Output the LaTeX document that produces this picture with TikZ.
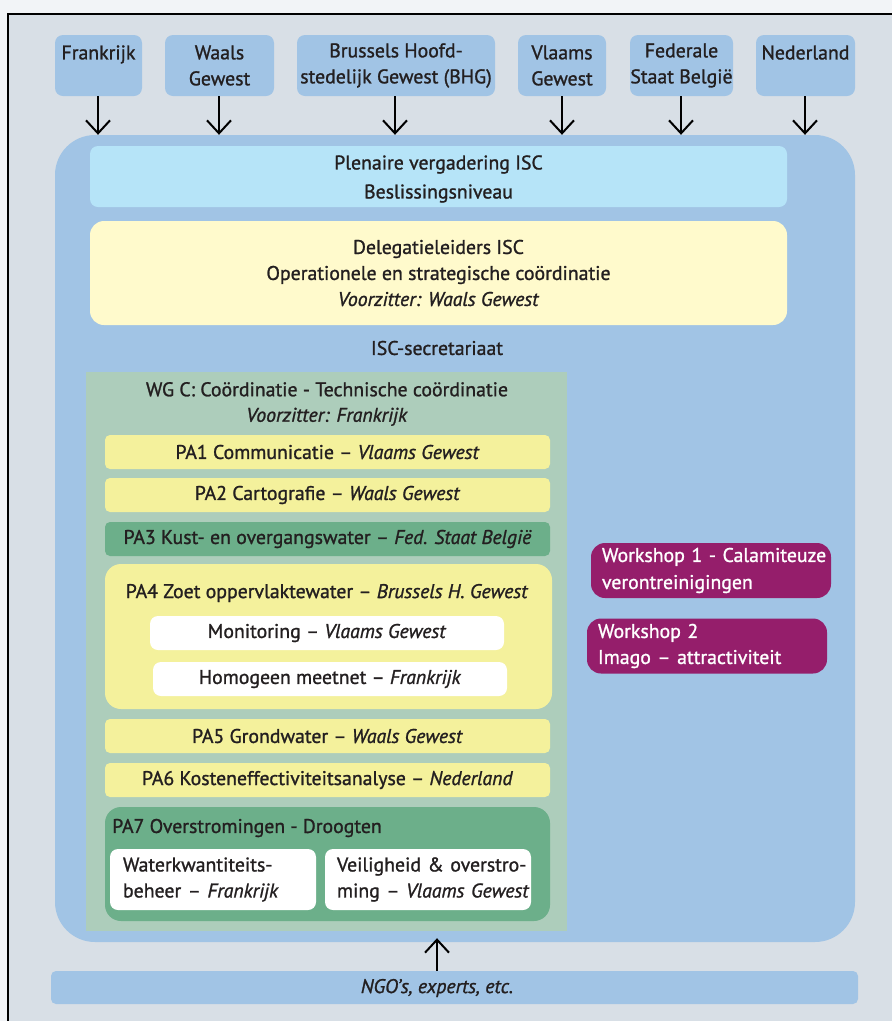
\documentclass[tikz,border=0pt]{standalone}
\usepackage{fontspec}
\setmainfont{PT Sans}[FakeBold=1.2]
\usetikzlibrary{arrows.meta}
\definecolor{outerbg}{HTML}{F2F4F7}
\definecolor{framebg}{HTML}{D8DFE6}
\definecolor{boxblue}{HTML}{A1C4E5}
\definecolor{plenblue}{HTML}{B6E4F8}
\definecolor{delyellow}{HTML}{FFFACC}
\definecolor{wggreen}{HTML}{ADCDBB}
\definecolor{payellow}{HTML}{F4F19C}
\definecolor{pagreen}{HTML}{6CAF8A}
\definecolor{wspurple}{HTML}{951E6B}
\definecolor{txt}{HTML}{231F20}
\newcommand\myfs{\fontsize{19.8}{26}\selectfont}
\begin{document}
\begin{tikzpicture}[x=1pt,y=-1pt,
  every node/.style={text=txt, font=\myfs, inner sep=0pt, align=center},
  topbox/.style={fill=boxblue, rounded corners=8pt, minimum height=61pt},
  pabox/.style={rounded corners=5pt, minimum width=445pt, minimum height=34pt},
  pay/.style={pabox, fill=payellow},
  pag/.style={pabox, fill=pagreen},
  whitebox/.style={fill=white, rounded corners=8pt},
  wsbox/.style={fill=wspurple, rounded corners=14pt, text=white, align=left, inner xsep=11pt, text width=218pt, minimum height=55pt},
  arr/.style={line width=2pt, -{Straight Barb[length=13pt,width=24pt,line width=2pt]}}
]
\useasboundingbox (0,0) rectangle (892,1021);
\fill[outerbg] (0,0) rectangle (892,1021);
\fill[framebg] (8,14) rectangle (892,1021);
\draw[black, line width=1.2pt] (8,1021) -- (8,14) -- (892,14);

% top boxes
\node[topbox, minimum width=87pt]  (fr) at (98.5,65.5)  {Frankrijk\\\phantom{G}};
\node[topbox, minimum width=109pt] (wa) at (219.5,65.5) {Waals\\Gewest};
\node[topbox, minimum width=198pt] (br) at (396,65.5)   {Brussels Hoofd-\\stedelijk Gewest (BHG)};
\node[topbox, minimum width=88pt]  (vl) at (562,65.5)   {Vlaams\\Gewest};
\node[topbox, minimum width=103pt] (fe) at (681.5,65.5) {Federale\\Staat België};
\node[topbox, minimum width=99pt]  (ne) at (805.5,65.5) {Nederland\\\phantom{G}};

% main box
\node[fill=boxblue, rounded corners=40pt, minimum width=800pt, minimum height=807pt] (main) at (455,538.5) {};

\foreach \n/\x in {fr/98,wa/219,br/395,vl/562,fe/681,ne/805}
  \draw[arr] (\x,0 |- \n.south) -- (\x,0 |- main.north);

% plenaire
\node[fill=plenblue, rounded corners=8pt, minimum width=697pt, minimum height=61pt] (plen) at (438.5,176.5) {};
\node[font=\fontsize{19.8}{29}\selectfont] (plent) at (438.5,179)
  {Plenaire vergadering ISC\\Beslissingsniveau};
% delegatie
\node[fill=delyellow, rounded corners=14pt, minimum width=697pt, minimum height=104pt] (del) at (438.5,273)
  {Delegatieleiders ISC\\Operationele en strategische coördinatie\\\textit{Voorzitter: Waals Gewest}};
\node (sec) at (437,348) {ISC-secretariaat};

% WG C
\node[fill=wggreen, minimum width=481pt, minimum height=559pt] (wgc) at (326.5,651.5) {};
\node[font=\fontsize{19.8}{25.5}\selectfont] (wgct) at (327,404)
  {WG C: Coördinatie - Technische coördinatie\\\textit{Voorzitter: Frankrijk}};

\node[pay] (pa1) at (327.5,452) {PA1 Communicatie – \textit{Vlaams Gewest}};
\node[pay] (pa2) at (327.5,495) {PA2 Cartografie – \textit{Waals Gewest}};
\node[pag] (pa3) at (327.5,539) {PA3 Kust- en overgangswater – \textit{Fed. Staat België}};

\node[fill=payellow, rounded corners=16pt, minimum width=447pt, minimum height=145pt] (pa4) at (328.5,636.5) {};
\node (pa4t) at (327,593) {PA4 Zoet oppervlaktewater – \textit{Brussels H. Gewest}};
\node[whitebox, minimum width=354pt, minimum height=34pt] (mon) at (327,633) {Monitoring – \textit{Vlaams Gewest}};
\node[whitebox, minimum width=354pt, minimum height=34pt] (hom) at (330,679) {Homogeen meetnet – \textit{Frankrijk}};

\node[pay] (pa5) at (327.5,736) {PA5 Grondwater – \textit{Waals Gewest}};
\node[pay] (pa6) at (327.5,780) {PA6 Kosteneffectiviteitsanalyse – \textit{Nederland}};

\node[fill=pagreen, rounded corners=16pt, minimum width=445pt, minimum height=114pt] (pa7) at (327.5,864) {};
\node[anchor=west] (pa7t) at (112,828) {PA7 Overstromingen - Droogten};
\node[whitebox, align=left, inner xsep=13pt, text width=180pt, minimum height=61pt] (wk) at (213,879.5)
  {\mbox{Waterkwantiteits-}\\\mbox{beheer – \textit{Frankrijk}}};
\node[whitebox, align=left, inner xsep=12pt, text width=182pt, minimum height=61pt] (vo) at (428,879.5)
  {\mbox{Veiligheid \& overstro-}\\\mbox{ming – \textit{Vlaams Gewest}}};

% workshops
\node[wsbox, font=\fontsize{19.8}{27}\selectfont] (ws1) at (711,570.5) {\mbox{Workshop 1 - Calamiteuze}\\\mbox{verontreinigingen}};
\node[wsbox, font=\fontsize{19.8}{26}\selectfont] (ws2) at (707,646) {\mbox{Workshop 2}\\\mbox{Imago – attractiviteit}};

% NGO
\node[fill=boxblue, rounded corners=5pt, minimum width=807pt, minimum height=33pt] (ngo) at (454.5,987.5) {};
\node (ngot) at (437,988) {\textit{NGO’s, experts, etc.}};
\draw[arr] (ngot |- ngo.north) -- ([yshift=4pt]ngot |- main.south);
\end{tikzpicture}
\end{document}
